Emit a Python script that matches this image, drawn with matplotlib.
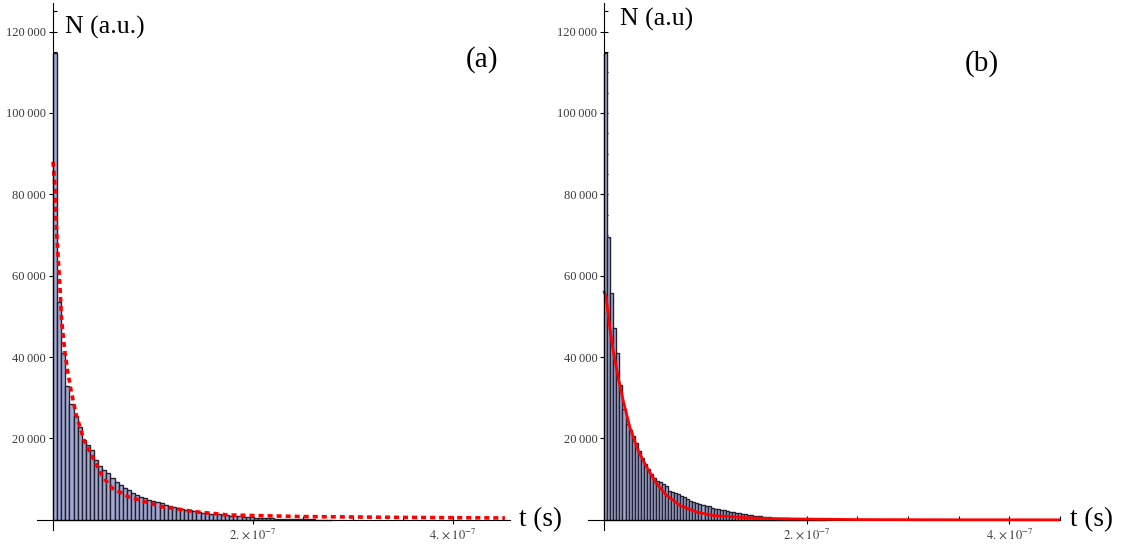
import numpy as np
import matplotlib
matplotlib.use("Agg")
import matplotlib.pyplot as plt

plt.rcParams['font.family'] = ['Liberation Serif', 'DejaVu Serif']
plt.rcParams['mathtext.fontset'] = 'stix'

# histogram (a): bin width and counts
bin_a = 4.1e-9
counts_a = [114600, 53600, 41000, 33000, 28500, 25500, 22800, 19600, 18400, 17100,
            14700, 13200, 12300, 11500, 10300, 9300, 8600, 7800, 7400, 6600,
            6100, 5600, 5400, 4900, 4700, 4400, 4200, 3700, 3400, 3100,
            2900, 2700, 2500, 2300, 2100, 2000, 1800, 1700, 1550, 1450,
            1350, 1250, 1150, 1050, 950, 850, 750, 700, 620, 560,
            500, 450, 400, 350, 300, 270, 240, 210, 180, 160,
            140, 120, 100, 90, 80, 70, 60, 50]

# fit (a), dashed red (t in ns)
fit_a_t = [0, 2, 2.6, 3.7, 5.3, 7, 8.6, 12, 15, 18.5, 23, 31, 41, 50, 59, 76,
           109, 142, 175, 250, 350, 452]
fit_a_n = [88000, 81700, 76800, 70400, 63800, 57100, 49000, 41000, 36000, 31200,
           26000, 19600, 14700, 10500, 7800, 5600, 3200, 2000, 1200, 800, 600, 450]

# histogram (b)
bin_b = 3.0e-9
counts_b = [114600, 69500, 55700, 47100, 41000, 33100, 27200, 23600, 22000, 20700,
            18800, 17000, 15300, 13700, 12400, 11300, 10400, 9600, 9200, 8800,
            8400, 7200, 6900, 6600, 6400, 5900, 5500, 5100, 4700, 4400,
            4100, 3900, 3700, 3500, 3300, 3000, 2700, 2600, 2450, 2300,
            2150, 2000, 1900, 1750, 1600, 1500, 1400, 1300, 1150, 1050,
            950, 850, 750, 650, 600, 560, 520, 500, 450, 400,
            350, 300, 260, 220, 190, 160, 140, 120, 100, 80, 60, 50, 40]

# fit (b), solid red
fit_b_t = [0, 2, 5.9, 8.9, 13.8, 18.7, 25.3, 33.5, 42, 51.9, 61.7, 74.9, 91.3,
           107.7, 140.9, 174, 250, 350, 450]
fit_b_n = [56000, 54600, 46400, 41500, 35000, 29300, 22700, 17000, 12900, 8800,
           6000, 3500, 1900, 1050, 500, 250, 60, 10, 0]

yticks = [20000, 40000, 60000, 80000, 100000, 120000]
ytick_labels = ['20\u2009000', '40\u2009000', '60\u2009000', '80\u2009000',
                '100\u2009000', '120\u2009000']
xticks = [2e-7, 4e-7]
xtick_labels = [r'$2.\times10^{-7}$', r'$4.\times10^{-7}$']

fig = plt.figure(figsize=(11.25, 5.51), dpi=100)
ax_a = fig.add_axes([0.0329, 0.0381, 0.4204, 0.9564])
ax_b = fig.add_axes([0.5227, 0.0381, 0.4196, 0.9564])


def draw_panel(ax, bw, counts, ft, fn, ls, lw, ylab, ylab_xy, tag, tag_xy, xmax):
    left = np.arange(len(counts)) * bw
    ax.bar(left, counts, width=bw, align='edge', color='#a3a9d3',
           edgecolor='#22222e', linewidth=1.0, zorder=2)
    ax.plot(np.array(ft) * 1e-9, fn, color='#ff0000', linestyle=ls,
            linewidth=lw, zorder=3)
    ax.set_xlim(-1.6e-8, xmax)
    ax.set_ylim(-2500, 127000)
    for s in ['top', 'right']:
        ax.spines[s].set_visible(False)
    ax.spines['left'].set_position(('data', 0))
    ax.spines['bottom'].set_position(('data', 0))
    ax.spines['left'].set_zorder(4)
    ax.set_yticks(yticks)
    ax.set_yticklabels(ytick_labels, fontsize=9, color='#3a3a3a')
    ax.set_yticks(np.arange(5000, 126000, 5000), minor=True)
    ax.set_xticks(xticks)
    ax.set_xticklabels(xtick_labels, fontsize=9, color='#3a3a3a')
    ax.set_xticks(np.arange(0.5e-7, 4.6e-7, 0.5e-7), minor=True)
    ax.tick_params(which='major', direction='inout', length=6, width=0.8, pad=2)
    ax.tick_params(which='minor', direction='in', length=3, width=0.8)
    ax.text(ylab_xy[0], ylab_xy[1], ylab, transform=ax.transAxes, fontsize=18.5,
            va='top', ha='left')
    ax.text(1.02, 0.019, 't (s)', transform=ax.transAxes, fontsize=19.5,
            va='center', ha='left', clip_on=False)
    ax.text(tag_xy[0], tag_xy[1], tag, transform=ax.transAxes, fontsize=21,
            va='center', ha='center')


draw_panel(ax_a, bin_a, counts_a, fit_a_t, fit_a_n, (0, (1.4, 1.1)), 2.6,
           'N (a.u.)', (0.059, 0.975), '(a)', (0.941, 0.892), 4.57e-7)
draw_panel(ax_b, bin_b, counts_b, fit_b_t, fit_b_n, '-', 2.0,
           'N (a.u)', (0.068, 0.99), '(b)', (0.835, 0.886), 4.5e-7)

fig.savefig('out.png', dpi=100)
